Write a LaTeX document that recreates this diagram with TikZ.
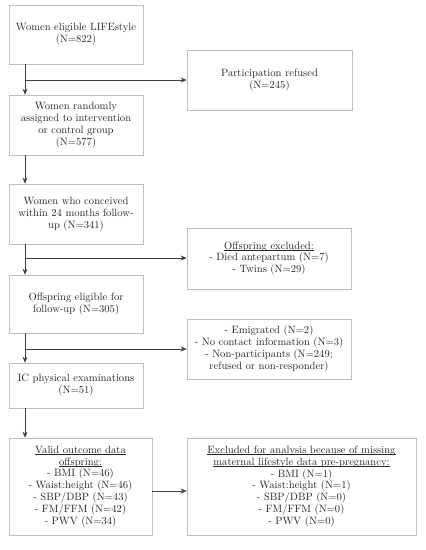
\documentclass[tikz,border=0pt]{standalone}
\usetikzlibrary{arrows.meta}
\newcommand\ulx[1]{\setbox0\hbox{#1}\rlap{\rule[-1.7pt]{\wd0}{0.45pt}}\box0}
\begin{document}
\begin{tikzpicture}[x=1pt,y=-1pt,
  box/.style={draw=black!25,line width=0.6pt,fill=white,align=center,inner sep=2pt,font=\fontsize{10.6}{11.9}\selectfont,text=black!85},
  arr/.style={draw=black!75,line width=0.7pt,-{Stealth[length=6pt,width=5pt]}}]
\useasboundingbox (0,0) rectangle (426,550);
\node[box,minimum width=134pt,minimum height=59pt] (b1) at (76,34.5) {Women eligible LIFEstyle\\(N=822)};
\node[box,minimum width=165pt,minimum height=60pt] (b2) at (269.5,80) {Participation refused\\(N=245)};
\node[box,minimum width=134pt,minimum height=60pt] (b3) at (76,125) {Women randomly\\assigned to intervention\\or control group\\(N=577)};
\node[box,minimum width=134pt,minimum height=60pt] (b4) at (76,214) {Women who conceived\\within 24 months follow-\\up (N=341)};
\node[box,minimum width=164pt,minimum height=61pt] (b5) at (269,258.5) {\ulx{Offspring excluded:}\\- Died antepartum (N=7)\\- Twins (N=29)};
\node[box,minimum width=134pt,minimum height=58pt] (b6) at (76,304) {Offspring eligible for\\follow-up (N=305)};
\node[box,minimum width=164pt,minimum height=60pt] (b7) at (269,349) {- Emigrated (N=2)\\- No contact information (N=3)\\- Non-participants (N=249;\\refused or non-responder)};
\node[box,minimum width=134pt,minimum height=45pt] (b8) at (76,385.5) {IC physical examinations\\(N=51)};
\node[box,minimum width=143pt,minimum height=97pt] (b9) at (80.5,486.5) {\ulx{Valid outcome data}\\\ulx{offspring:}\\- BMI (N=46)\\- Waist:height (N=46)\\- SBP/DBP (N=43)\\- FM/FFM (N=42)\\- PWV (N=34)};
\node[box,minimum width=229pt,minimum height=97pt] (b10) at (301.5,486.5) {\ulx{Excluded for analysis because of missing}\\\ulx{maternal lifestyle data pre-pregnancy:}\\- BMI (N=1)\\- Waist:height (N=1)\\- SBP/DBP (N=0)\\- FM/FFM (N=0)\\- PWV (N=0)};
\coordinate (s1) at (25,80);
\coordinate (s4) at (25,258);
\coordinate (s6) at (25,349);
\draw[arr] (b1.south -| s1) -- (b3.north -| s1);
\draw[arr] (s1) -- (b2.west |- s1);
\draw[arr] (b3.south -| s1) -- (b4.north -| s1);
\draw[arr] (b4.south -| s4) -- (b6.north -| s4);
\draw[arr] (s4) -- (b5.west |- s4);
\draw[arr] (b6.south -| s6) -- (b8.north -| s6);
\draw[arr] (s6) -- (b7.west |- s6);
\draw[arr] (b8.south -| s6) -- (b9.north -| s6);
\coordinate (s9) at (152,491);
\draw[arr] (s9) -- (b10.west |- s9);
\end{tikzpicture}
\end{document}
